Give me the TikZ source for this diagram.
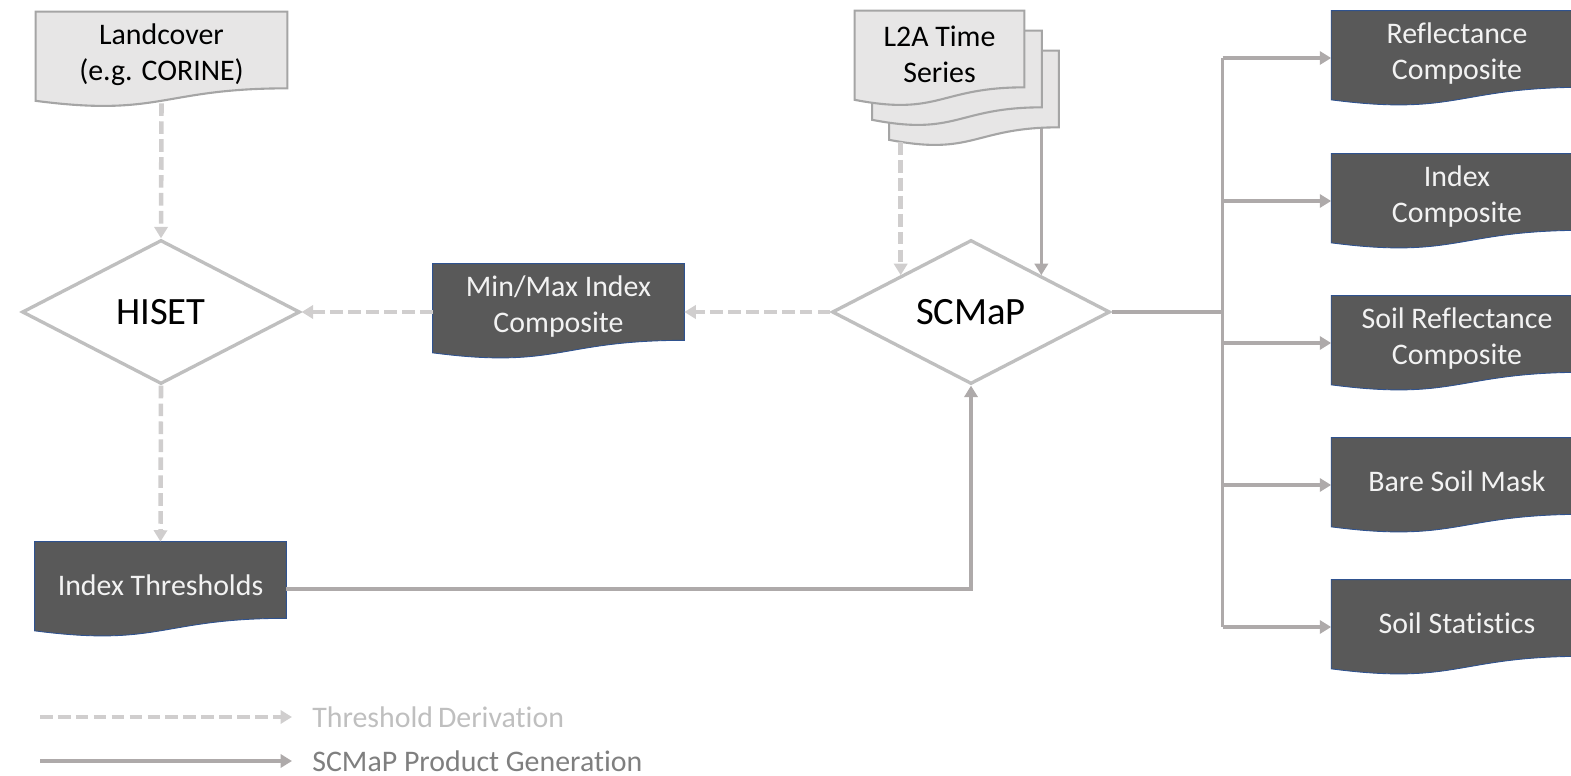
\documentclass[tikz,border=0pt]{standalone}
\usepackage{fontspec}
\setmainfont{Carlito}[Ligatures=NoCommon]
\usetikzlibrary{shapes.geometric,arrows.meta,backgrounds,positioning}

\definecolor{docfill}{HTML}{E7E6E6}
\definecolor{docline}{HTML}{A5A5A5}
\definecolor{boxdark}{HTML}{595959}
\definecolor{boxline}{HTML}{2F528F}
\definecolor{dashgray}{HTML}{D0CECE}
\definecolor{solidgray}{HTML}{AEAAAA}
\definecolor{rhombline}{HTML}{BFBFBF}
\definecolor{legendlight}{HTML}{BFBFBF}
\definecolor{legenddark}{HTML}{7F7F7F}

\tikzset{
  doc/.style={rectangle,inner sep=0pt,minimum width=5.02cm,minimum height=1.52cm,
    align=center,font=\fontsize{17}{20.5}\selectfont},
  lightdoc/.style={doc,text=black},
  darkdoc/.style={doc,text=white!95!black},
  rhomb/.style={diamond,draw=rhombline,line width=1.9pt,fill=white,inner sep=0pt,
    minimum width=5.56cm,minimum height=2.88cm,font=\fontsize{22}{26}\selectfont},
  derive/.style={draw=dashgray,line width=2.6pt,dash pattern=on 7.2pt off 3pt,
    -{Triangle[length=6.5pt,width=7.5pt]}},
  produce/.style={draw=solidgray,line width=2pt,-{Triangle[length=6.5pt,width=7.5pt]}},
  legend/.style={inner sep=0pt,anchor=west,font=\fontsize{17}{20.5}\selectfont},
}

\begin{document}
\begin{tikzpicture}[x=0.02cm,y=-0.02cm]
\useasboundingbox (0,0) rectangle (1571,776);

% inputs
\node[lightdoc] (lc) at (161.5,55) {Landcover\\(e.g. CORINE)};
\node[lightdoc,minimum width=3.38cm] (l2aC) at (974,94) {};
\node[lightdoc,minimum width=3.38cm] (l2aB) at (957,74) {};
\node[lightdoc,minimum width=3.38cm] (l2a) at (939.5,54) {L2A Time\\Series};

% processing
\node[rhomb] (hiset) at (161,312) {HISET};
\node[rhomb] (scmap) at (971,312) {SCMaP};

% intermediate results
\node[darkdoc] (mm) at (558.5,307) {Min/Max Index\\Composite};
\node[darkdoc] (thr) at (160.5,585) {Index Thresholds};

% products
\node[darkdoc] (o1) at (1457,54) {Reflectance\\Composite};
\node[darkdoc] (o2) at (1457,197) {Index\\Composite};
\node[darkdoc] (o3) at (1457,339) {Soil Reflectance\\Composite};
\node[darkdoc] (o4) at (1457,481) {Bare Soil Mask};
\node[darkdoc] (o5) at (1457,623) {Soil Statistics};

% document outlines (text sits a little low in each sheet)
\begin{scope}[on background layer]
\foreach \n in {lc,l2aC,l2aB,l2a}
  \filldraw[fill=docfill,draw=docline,line width=1.2pt] ([yshift=0.1cm]\n.north west)
    -- ([yshift=0.1cm]\n.north east) -- ([yshift=0.1cm]\n.south east)
    .. controls ([yshift=0.1cm]\n.south) and ([yshift=-0.48cm]\n.south)
    .. ([yshift=-0.15cm]\n.south west) -- cycle;
\foreach \n in {mm,thr,o1,o2,o3,o4,o5}
  \filldraw[fill=boxdark,draw=boxline,line width=0.5pt] ([yshift=0.1cm]\n.north west)
    -- ([yshift=0.1cm]\n.north east) -- ([yshift=0.1cm]\n.south east)
    .. controls ([yshift=0.1cm]\n.south) and ([yshift=-0.48cm]\n.south)
    .. ([yshift=-0.15cm]\n.south west) -- cycle;
\end{scope}

% threshold derivation
\draw[derive] ([yshift=-0.2cm]lc.south) -- (hiset.north);
\draw[derive] (hiset.south) -- ([yshift=0.1cm]thr.north);
\draw[derive] (mm.west |- hiset.east) -- (hiset.east);
\draw[derive] (scmap.west) -- (mm.east |- scmap.west);
\path (scmap.north west) ++(0,-133) coordinate (l2aL);
\draw[derive] (l2aL) -- (scmap.north west);

% product generation
\path (scmap.north east) ++(0,-146) coordinate (l2aR);
\draw[produce] (l2aR) -- (scmap.north east);
\draw[produce] ([yshift=-0.08cm]thr.east) -| (scmap.south);
\draw[draw=solidgray,line width=2pt] (scmap.east) -- ++(111,0) coordinate (fork);
\foreach \i in {1,...,5}{
  \coordinate (a\i) at ([yshift=-0.08cm]o\i.west);
  \draw[produce] (fork |- a\i) -- (a\i);
}
\draw[draw=solidgray,line width=2pt] (fork |- a1) -- (fork |- a5);

% legend
\coordinate (lg1) at (40,717);
\coordinate (lg1e) at (292,717);
\coordinate (lg2) at (40,761);
\coordinate (lg2e) at (292,761);
\draw[derive] (lg1) -- (lg1e);
\draw[produce] (lg2) -- (lg2e);
\node[legend,text=legendlight,right=0.4cm of lg1e] (lgt1) {Threshold\,Derivation};
\node[legend,text=legenddark,right=0.4cm of lg2e] (lgt2) {SCMaP Product Generation};
\end{tikzpicture}
\end{document}
